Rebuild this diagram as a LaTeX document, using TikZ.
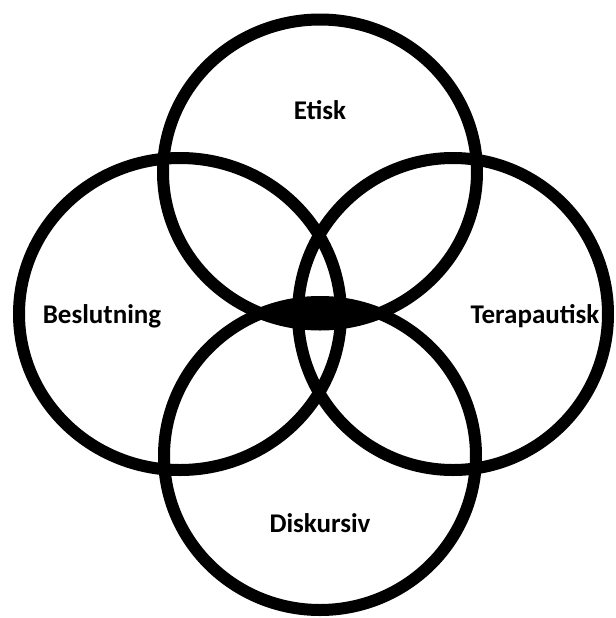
\documentclass[tikz,border=0pt]{standalone}
\usepackage{fontspec}
\setmainfont{Carlito}
\usepackage{tikz}
\usetikzlibrary{positioning, shapes.geometric}

\begin{document}
\begin{tikzpicture}[
    x=0.5pt, y=-0.5pt,
    ring/.style={ellipse, draw=black, line width=6pt,
        inner sep=0pt, outer sep=0pt},
    lbl/.style={font=\fontsize{13.5}{16}\selectfont\bfseries, inner sep=0pt}
]
\useasboundingbox (0,0) rectangle (616,618);
% the four circles
\node[ring, minimum width=157pt, minimum height=152.5pt] (etisk) at (320,172) {};
\node[ring, minimum width=161pt, minimum height=156pt] (beslut) at (180,314) {};
\node[ring, minimum width=155pt, minimum height=156pt] (terap) at (453,314) {};
\node[ring, minimum width=156pt, minimum height=154pt] (disk) at (320,456) {};

% dark middle where top and bottom meet
\begin{scope}
  \clip (etisk.center) ellipse [x radius=78.5pt, y radius=76.25pt];
  \fill[black] (disk.center) ellipse [x radius=78pt, y radius=77pt];
\end{scope}

% labels
\node[lbl] (etisklbl) at (320,110) {Etisk};
\node[lbl] (beslutlbl) at (102,316) {Beslutning};
\node[lbl] (teraplbl) at (535,316) {Terapautisk};
\node[lbl] (disklbl) at (320,523) {Diskursiv};
\end{tikzpicture}
\end{document}
